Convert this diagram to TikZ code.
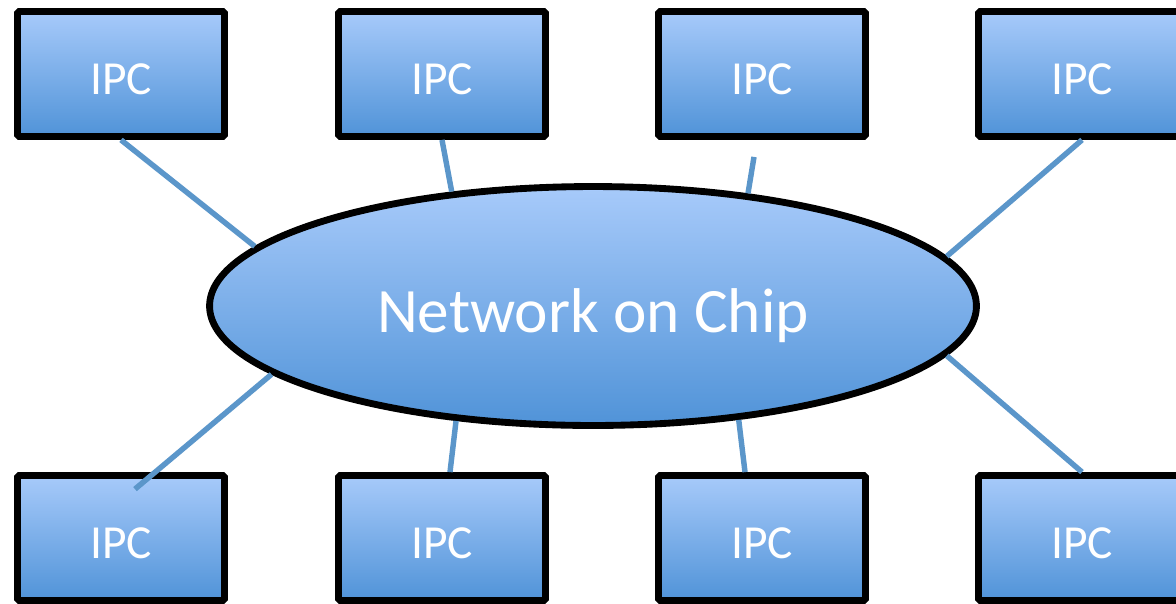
\documentclass[tikz,border=0pt]{standalone}
\usepackage{fontspec}
\setmainfont{Carlito}
\usepackage{xcolor}
\usepackage{tikz}
\usetikzlibrary{shapes.geometric,shadows}

\definecolor{fillTop}{HTML}{A7CAFA}
\definecolor{fillBot}{HTML}{5093D8}
\definecolor{linkBlue}{HTML}{5B96CA}

\begin{document}
\begin{tikzpicture}[x=0.02cm,y=-0.02cm,
  ipc/.style={rectangle,rounded corners=1pt,draw=black,line width=3.9pt,
    top color=fillTop,bottom color=fillBot,
    minimum width=4.14cm,minimum height=2.5cm,inner sep=0pt,
    text=white,font=\fontsize{27}{30}\selectfont,
    text height=0.8cm,text depth=0pt,
    drop shadow={opacity=0.25,shadow xshift=0.04cm,shadow yshift=-0.05cm}},
  noc/.style={ellipse,draw=black,line width=3.9pt,
    top color=fillTop,bottom color=fillBot,
    minimum width=15.34cm,minimum height=4.78cm,inner sep=0pt,
    text=white,font=\fontsize{36}{40}\selectfont,
    text height=1.04cm,text depth=0pt,
    drop shadow={opacity=0.25,shadow xshift=0.04cm,shadow yshift=-0.05cm}},
  link/.style={draw=linkBlue,line width=3.1pt}]

    \useasboundingbox (0,0) rectangle (1176,603);

    % The network
	\node [noc] at (593,306) (noc) {Network on Chip};

	% Cores, top row
	\node [ipc] at (121,74) (ipc1) {IPC};
	\node [ipc] at (442,74) (ipc2) {IPC};
	\node [ipc] at (762,74) (ipc3) {IPC};
	\node [ipc] at (1082,74) (ipc4) {IPC};

	% Cores, bottom row
	\node [ipc] at (121,538) (ipc5) {IPC};
	\node [ipc] at (442,538) (ipc6) {IPC};
	\node [ipc] at (762,538) (ipc7) {IPC};
	\node [ipc] at (1082,538) (ipc8) {IPC};

	% Loose ends of some links
	\coordinate (s3) at ([xshift=-0.16cm,yshift=-0.34cm]ipc3.south);
	\coordinate (s5) at ([xshift=0.28cm,yshift=-0.34cm]ipc5.north);
	\coordinate (s6) at ([xshift=0.16cm]ipc6.north);
	\coordinate (s7) at ([xshift=-0.34cm]ipc7.north);

	% Links to the network
	\path[link]
	(ipc1.south) edge (noc.170)
	(ipc2.south) edge (noc.141)
	(s3) edge (noc.36)
	(ipc4.south) edge (noc.8);

	\path[link]
	(s5) edge (noc.192)
	(s6) edge (noc.220)
	(s7) edge (noc.322)
	(ipc8.north) edge (noc.352);

\end{tikzpicture}
\end{document}
